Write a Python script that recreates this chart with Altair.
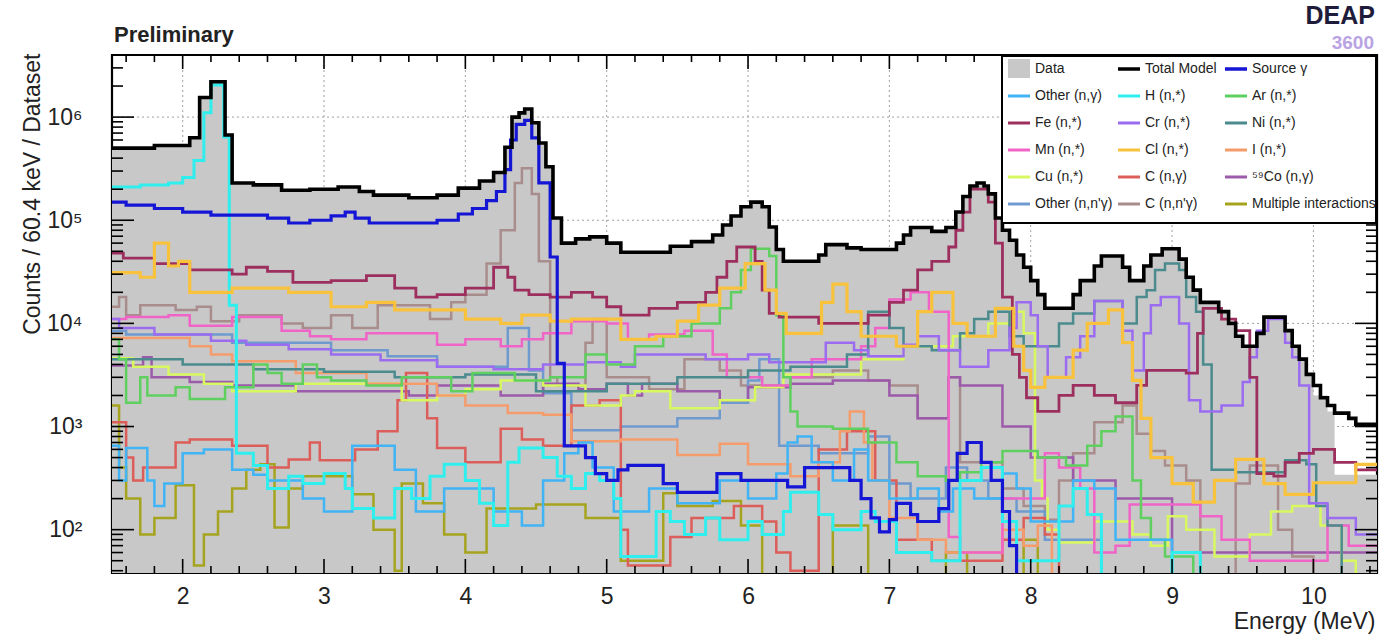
import altair as alt
import pandas as pd

# ---------------- axis ranges ----------------
X_MIN, X_MAX = 1.5, 10.45
Y_MIN, Y_MAX = 38, 4.0e6

X_MAJOR = [2, 3, 4, 5, 6, 7, 8, 9, 10]
Y_MAJOR = [1e2, 1e3, 1e4, 1e5, 1e6]

SERIES_NAMES = ["Data", "Total Model", "Source γ",
                "Other (n,γ)", "H (n,*)", "Ar (n,*)",
                "Fe (n,*)", "Cr (n,*)", "Ni (n,*)",
                "Mn (n,*)", "Cl (n,*)", "I (n,*)",
                "Cu (n,*)", "C (n,γ)", "⁵⁹Co (n,γ)",
                "Other (n,n'γ)", "C (n,n'γ)", "Multiple interactions"]
SERIES_COLORS = ["#c8c8c8", "#000000", "#1515d6",
                 "#40b4f4", "#2feeee", "#5fd05f",
                 "#9c2f5e", "#9b6cf0", "#4b8b8e",
                 "#f064c8", "#f8c23c", "#f59c6c",
                 "#d8f860", "#dc5e5a", "#9c5aaa",
                 "#6e9ad0", "#a98d8d", "#a6a41e"]

# ---------------- histograms: (bin low edge in MeV, counts) ----------------
TOTAL = [(1.5,5.0e5),(1.8,5.3e5),(2.05,6.3e5),(2.12,1.55e6),(2.2,2.2e6),(2.3,6.7e5),(2.35,2.3e5),(2.5,2.2e5),
         (2.7,1.95e5),(2.9,2.0e5),(3.1,2.1e5),(3.25,1.9e5),(3.35,1.75e5),(3.6,1.65e5),(3.8,1.75e5),(3.95,2.05e5),
         (4.1,2.4e5),(4.2,2.9e5),(4.28,5.1e5),(4.33,1.0e6),(4.38,1.1e6),(4.42,1.2e6),(4.47,8.8e5),(4.52,5.6e5),
         (4.57,3.3e5),(4.62,1.05e5),(4.68,6.0e4),(4.78,6.6e4),(4.88,6.9e4),(5.0,6.0e4),(5.1,4.9e4),(5.45,5.6e4),
         (5.6,6.2e4),(5.75,7.2e4),(5.82,9.0e4),(5.88,1.1e5),(5.95,1.35e5),(6.02,1.5e5),(6.1,1.35e5),(6.15,8.6e4),
         (6.2,5.2e4),(6.25,4.0e4),(6.5,4.6e4),(6.55,5.8e4),(6.7,5.4e4),(6.8,5.2e4),(7.05,6.0e4),(7.1,7.2e4),
         (7.15,8.5e4),(7.3,7.8e4),(7.4,8.5e4),(7.47,1.2e5),(7.52,1.7e5),(7.57,2.15e5),(7.62,2.3e5),(7.67,2.15e5),
         (7.7,1.8e5),(7.75,1.05e5),(7.8,8.0e4),(7.85,6.4e4),(7.9,4.6e4),(7.95,3.5e4),(8.0,2.6e4),(8.05,1.9e4),
         (8.1,1.4e4),(8.3,1.9e4),(8.35,2.6e4),(8.45,3.6e4),(8.5,4.5e4),(8.65,3.5e4),(8.7,2.6e4),(8.8,3.6e4),
         (8.85,4.6e4),(8.93,5.3e4),(9.05,4.2e4),(9.1,2.8e4),(9.15,2.1e4),(9.2,1.6e4),(9.33,1.3e4),(9.4,1.0e4),
         (9.45,7.5e3),(9.5,6.0e3),(9.6,8.0e3),(9.65,1.15e4),(9.8,8.5e3),(9.85,6.0e3),(9.9,4.5e3),(9.95,3.2e3),
         (10.0,2.5e3),(10.05,1.9e3),(10.1,1.6e3),(10.15,1.35e3),(10.25,1.2e3),(10.3,1.05e3)]

DATA = [(1.5,5.0e5),(1.8,5.3e5),(2.05,6.3e5),(2.12,1.55e6),(2.2,2.2e6),(2.3,6.7e5),(2.35,2.3e5),(2.5,2.2e5),
        (2.7,1.95e5),(2.9,2.0e5),(3.1,2.1e5),(3.25,1.9e5),(3.35,1.75e5),(3.6,1.65e5),(3.8,1.75e5),(3.95,2.05e5),
        (4.1,2.4e5),(4.2,2.9e5),(4.28,5.1e5),(4.33,1.0e6),(4.38,1.1e6),(4.42,1.2e6),(4.47,8.8e5),(4.52,5.6e5),
        (4.57,3.3e5),(4.62,1.05e5),(4.68,6.0e4),(4.78,6.6e4),(4.88,6.9e4),(5.0,6.0e4),(5.1,4.9e4),(5.45,5.6e4),
        (5.6,6.2e4),(5.75,7.2e4),(5.82,9.0e4),(5.88,1.1e5),(5.95,1.35e5),(6.02,1.5e5),(6.1,1.35e5),(6.15,8.6e4),
        (6.2,5.2e4),(6.25,4.0e4),(6.5,4.6e4),(6.55,5.8e4),(6.7,5.4e4),(6.8,5.2e4),(7.05,6.0e4),(7.1,7.2e4),
        (7.15,8.5e4),(7.3,7.8e4),(7.4,8.5e4),(7.47,1.2e5),(7.52,1.7e5),(7.57,2.15e5),(7.62,2.3e5),(7.67,2.15e5),
        (7.7,1.8e5),(7.75,1.05e5),(7.8,8.0e4),(7.85,6.4e4),(7.9,4.6e4),(7.95,3.5e4),(8.0,2.6e4),(8.05,1.9e4),
        (8.1,1.4e4),(8.3,1.9e4),(8.35,2.6e4),(8.45,3.6e4),(8.5,4.5e4),(8.65,3.5e4),(8.7,2.6e4),(8.8,3.6e4),
        (8.85,4.6e4),(8.93,5.3e4),(9.05,4.2e4),(9.1,2.8e4),(9.15,2.1e4),(9.2,1.6e4),(9.33,1.3e4),(9.4,1.0e4),
        (9.45,7.5e3),(9.5,6.0e3),(9.6,8.5e3),(9.65,1.2e4),(9.8,8.5e3),(9.85,6.0e3),(9.9,4.5e3),(9.95,3.2e3),
        (10.0,2.0e3),(10.1,1.4e3),(10.15,340)]

SOURCE = [(1.5,1.5e5),(1.6,1.4e5),(1.8,1.3e5),(2.0,1.2e5),(2.2,1.12e5),(2.6,1.05e5),(2.75,9.4e4),(2.9,1.0e5),
          (3.05,1.1e5),(3.15,1.2e5),(3.22,1.05e5),(3.32,9.4e4),(3.8,1.0e5),(3.95,1.15e5),(4.05,1.3e5),(4.15,1.55e5),
          (4.22,1.9e5),(4.28,3.1e5),(4.32,6.0e5),(4.36,8.5e5),(4.42,9.3e5),(4.47,6.3e5),(4.52,2.3e5),(4.6,4.4e4),
          (4.65,4.1e3),(4.7,650),(4.85,500),(4.92,350),(5.0,300),(5.08,380),(5.15,420),(5.4,280),(5.5,230),
          (5.78,350),(5.95,300),(6.28,260),(6.4,400),(6.72,300),(6.8,200),(6.87,130),(6.93,95),(7.0,125),
          (7.05,180),(7.15,140),(7.2,120),(7.35,160),(7.42,300),(7.48,550),(7.55,700),(7.65,450),(7.72,300),
          (7.8,150),(7.85,70),(7.9,10)]

OTHER_NG = [(1.5,650),(1.55,300),(1.6,620),(1.75,300),(1.8,170),(1.87,280),(2.0,550),(2.15,600),(2.35,380),
            (2.5,340),(2.6,300),(2.85,200),(3.0,150),(3.2,650),(3.5,380),(3.65,150),(3.85,250),(4.2,150),
            (4.4,110),(4.55,300),(4.7,550),(4.8,700),(4.9,400),(5.05,150),(5.3,250),(5.5,180),(5.8,300),
            (6.0,200),(6.2,350),(6.28,700),(6.35,800),(6.45,450),(6.6,300),(6.75,600),(6.85,300),(7.0,200),
            (7.2,250),(7.35,150),(7.45,250),(7.6,200),(7.8,350),(7.9,250),(8.0,120),(8.3,300),(8.45,250),
            (8.6,80),(9.0,30)]

H_NX = [(1.5,2.1e5),(1.7,2.2e5),(1.9,2.3e5),(2.0,2.6e5),(2.08,3.8e5),(2.15,1.1e6),(2.2,2.05e6),(2.29,6.4e5),
        (2.33,1.5e4),(2.38,550),(2.5,420),(2.6,250),(2.75,330),(2.85,280),(3.0,350),(3.15,250),(3.2,160),
        (3.35,130),(3.5,250),(3.62,200),(3.75,330),(3.85,430),(4.0,300),(4.1,180),(4.2,110),(4.3,450),
        (4.38,620),(4.55,500),(4.65,330),(4.75,250),(4.85,350),(4.95,300),(5.05,200),(5.1,55),(5.35,150),
        (5.45,120),(5.55,90),(5.7,130),(5.8,80),(6.0,120),(6.1,90),(6.25,150),(6.3,230),(6.5,140),(6.6,100),
        (6.8,150),(6.9,120),(7.05,60),(7.3,50),(7.5,300),(7.65,400),(7.8,120),(7.9,50),(8.2,170),(8.3,250),
        (8.4,140),(8.5,30),(9.0,60),(9.2,20)]

AR = [(1.5,7e3),(1.55,4.5e3),(1.6,1.7e3),(1.7,3e3),(1.75,2.0e3),(1.95,2.4e3),(2.05,1.85e3),(2.3,2.4e3),
      (2.5,4e3),(2.6,3.3e3),(2.7,2.6e3),(2.85,4e3),(2.95,3e3),(3.05,2.8e3),(3.3,2.5e3),(3.55,3e3),(3.9,2.2e3),
      (4.05,3.3e3),(4.35,2.8e3),(4.6,3.0e3),(4.85,5.0e3),(5.0,4.0e3),(5.2,6.0e3),(5.4,7.5e3),(5.6,1.0e4),
      (5.8,1.4e4),(5.88,2.0e4),(5.95,3.3e4),(6.02,5.3e4),(6.15,4.5e4),(6.2,1.2e4),(6.25,3.0e3),(6.3,1.4e3),
      (6.35,1.0e3),(6.6,950),(6.85,700),(7.05,450),(7.2,330),(7.4,300),(7.5,360),(7.65,450),(7.8,580),
      (8.05,500),(8.25,420),(8.4,650),(8.5,900),(8.6,1.25e3),(8.72,300),(8.78,130),(8.85,80),(8.95,55),(9.15,20)]

FE = [(1.5,4.8e4),(1.58,4.3e4),(1.8,3.8e4),(2.05,3.3e4),(2.35,3.0e4),(2.45,3.5e4),(2.6,3.2e4),(2.78,2.5e4),
      (3.05,2.6e4),(3.3,2.9e4),(3.5,2.2e4),(3.65,1.8e4),(3.8,1.9e4),(4.0,2.2e4),(4.2,3.5e4),(4.3,2.8e4),
      (4.35,2.1e4),(4.45,1.9e4),(4.6,1.8e4),(4.75,2.0e4),(4.9,1.8e4),(5.0,1.45e4),(5.1,1.2e4),(5.3,1.4e4),
      (5.5,1.6e4),(5.7,2.0e4),(5.78,2.8e4),(5.85,4.0e4),(5.92,5.5e4),(6.05,4.0e4),(6.1,2.1e4),(6.15,1.25e4),
      (6.22,1.15e4),(6.5,1.0e4),(6.85,1.2e4),(7.0,1.6e4),(7.1,2.1e4),(7.2,3.3e4),(7.3,4.0e4),(7.42,5.5e4),
      (7.47,8e4),(7.52,1.2e5),(7.57,2.0e5),(7.7,1.5e5),(7.75,6.0e4),(7.8,1.8e4),(7.87,5e3),(7.92,3e3),
      (7.97,1.9e3),(8.05,1.4e3),(8.2,2.0e3),(8.3,2.5e3),(8.45,2.0e3),(8.6,1.7e3),(8.75,2.5e3),(8.82,3.5e3),
      (9.1,3.3e3),(9.18,8e3),(9.22,1.4e4),(9.35,1.1e4),(9.45,8.5e3),(9.55,3.0e3),(9.6,350),(9.72,330),
      (9.8,450),(9.9,550),(10.0,600),(10.15,450),(10.3,380)]

CR = [(1.5,1.1e4),(1.55,9e3),(1.8,7.8e3),(2.2,6.8e3),(2.45,6.2e3),(2.75,5.6e3),(3.05,5.0e3),(3.4,4.4e3),
      (3.8,3.8e3),(4.2,3.6e3),(4.55,4.0e3),(4.85,4.2e3),(5.1,3.8e3),(5.2,5.0e3),(5.7,4.5e3),(6.0,5.0e3),
      (6.15,4.2e3),(6.55,6.5e3),(6.75,5.5e3),(6.85,4.8e3),(7.1,6.2e3),(7.2,7.5e3),(7.35,5.5e3),(7.5,3.8e3),
      (7.7,5.5e3),(7.85,9e3),(7.9,1.6e4),(8.0,1.2e4),(8.05,6e3),(8.12,3.0e3),(8.25,4.7e3),(8.35,7.5e3),
      (8.45,1.65e4),(8.65,8.5e3),(8.72,3.5e3),(8.8,8e3),(8.85,1.5e4),(8.92,1.8e4),(9.05,1.0e4),(9.12,1.8e3),
      (9.2,1.4e3),(9.35,1.6e3),(9.5,2.7e3),(9.55,4.7e3),(9.6,8.5e3),(9.68,1.1e4),(9.8,6.5e3),(9.85,4.7e3),
      (9.9,2.5e3),(9.97,180),(10.1,130),(10.3,90)]

NI = [(1.5,4.5e3),(2.0,4.0e3),(2.5,3.6e3),(3.0,3.4e3),(3.5,3.0e3),(4.0,3.2e3),(4.5,2.2e3),(5.0,2.6e3),
      (5.5,3.0e3),(6.0,3.5e3),(6.3,3.8e3),(6.7,5e3),(6.85,1.3e4),(7.0,9e3),(7.1,6e3),(7.3,5.5e3),(7.5,8e3),
      (7.6,1.1e4),(7.7,1.3e4),(7.85,7.5e3),(7.95,6e3),(8.2,1.0e4),(8.3,1.25e4),(8.45,1.65e4),(8.65,1.0e4),
      (8.75,1.8e4),(8.82,2.1e4),(8.88,3.3e4),(8.95,3.8e4),(9.05,3.3e4),(9.1,1.8e4),(9.17,1.3e4),(9.22,4e3),
      (9.28,380),(9.45,360),(9.8,470),(9.95,430),(10.02,170),(10.1,110),(10.2,20)]

MN = [(1.5,1.1e4),(1.6,1.15e4),(1.9,1.2e4),(2.05,9.5e3),(2.35,1.15e4),(2.7,8.5e3),(2.9,7.5e3),(3.05,7.0e3),
      (3.3,8.0e3),(3.8,6.2e3),(4.0,7.0e3),(4.25,6.0e3),(4.4,7.0e3),(4.55,8.0e3),(4.75,1.05e4),(5.0,1.0e4),
      (5.15,7.0e3),(5.3,7.8e3),(5.55,8.5e3),(5.75,5.0e3),(5.85,3.0e3),(6.1,2.5e3),(6.3,3.0e3),(6.45,4.5e3),
      (6.8,6e3),(6.9,9e3),(7.0,1.7e4),(7.15,2.0e4),(7.28,1.3e4),(7.42,85),(7.5,60),(7.8,200),(8.1,550),
      (8.2,400),(8.35,250),(8.45,60),(8.6,70),(8.7,175),(9.2,135),(9.35,80),(9.55,50),(10.1,110),(10.25,70)]

CL = [(1.5,3.1e4),(1.7,2.8e4),(1.8,6.0e4),(1.9,3.6e4),(1.97,4.0e4),(2.05,2.0e4),(2.35,2.2e4),(2.75,2.0e4),
      (3.05,1.45e4),(3.3,1.6e4),(3.5,1.35e4),(4.0,1.1e4),(4.25,1.0e4),(4.4,1.2e4),(4.6,1.05e4),(4.75,1.1e4),
      (5.1,7.0e3),(5.35,7.5e3),(5.5,1.05e4),(5.65,1.5e4),(5.8,2.2e4),(5.98,3.8e4),(6.12,2.1e4),(6.2,1.25e4),
      (6.27,8.0e3),(6.52,1.6e4),(6.6,2.4e4),(6.7,1.3e4),(6.8,7.5e3),(7.05,6.0e3),(7.2,1.3e4),(7.3,2.0e4),
      (7.45,1.0e4),(7.55,7.5e3),(7.75,1.4e4),(7.88,6e3),(7.95,3.5e3),(8.0,2.4e3),(8.1,3.0e3),(8.3,5.5e3),
      (8.4,1.0e4),(8.55,1.35e4),(8.65,6.5e3),(8.72,2.8e3),(8.78,1.2e3),(8.85,500),(9.0,280),(9.15,185),
      (9.3,300),(9.45,480),(9.65,280),(9.8,220),(10.0,285),(10.3,430)]

I_NX = [(1.5,7.2e3),(2.05,6.0e3),(2.2,5.0e3),(2.35,4.3e3),(2.8,3.3e3),(3.3,2.6e3),(3.8,2.0e3),(4.0,1.6e3),
        (4.3,1.35e3),(4.55,1.3e3),(4.75,720),(5.1,750),(5.5,530),(5.8,680),(6.0,430),(6.3,330),(6.5,450),
        (6.65,900),(6.72,1.4e3),(6.82,700),(6.88,300),(7.0,130),(7.2,80),(7.4,60),(7.8,100),(7.95,70),
        (8.05,110),(8.15,25)]

CU = [(1.5,4.6e3),(1.65,3.8e3),(1.9,3.2e3),(2.15,2.6e3),(2.35,2.2e3),(2.8,2.6e3),(3.55,1.8e3),(3.8,2.0e3),
      (4.0,2.3e3),(4.25,2.8e3),(4.55,2.5e3),(4.85,1.6e3),(5.1,2.0e3),(5.2,2.2e3),(5.45,1.5e3),(5.8,1.8e3),
      (6.05,2.4e3),(6.25,3.2e3),(6.8,4.5e3),(7.1,6.0e3),(7.45,7.5e3),(7.7,1.0e4),(7.85,1.3e4),(7.95,8e3),
      (8.03,300),(8.08,200),(8.12,100),(8.2,75),(8.45,120),(8.72,90),(8.85,70),(8.97,135),(9.1,100),(9.3,55),
      (9.55,90),(9.7,150),(9.85,170),(10.05,110),(10.2,50),(10.3,20)]

C_NG = [(1.5,1.1e3),(1.6,500),(1.65,300),(1.72,400),(1.95,700),(2.05,750),(2.35,650),(2.6,400),(2.75,480),
        (2.9,700),(2.97,470),(3.22,600),(3.38,900),(3.52,1.8e3),(3.58,3.3e3),(3.73,1.2e3),(3.8,620),(4.0,450),
        (4.25,950),(4.4,750),(4.55,650),(4.75,1.6e3),(4.95,1.8e3),(5.1,100),(5.15,45),(5.45,85),(5.6,130),
        (5.9,170),(6.1,120),(6.2,60),(6.3,40),(6.5,600),(6.7,900),(6.9,300),(7.05,80),(7.3,50),(7.8,80),
        (7.95,130),(8.1,90),(8.2,25)]

CO59 = [(1.5,3.9e3),(1.72,4.7e3),(1.78,3.0e3),(2.05,2.7e3),(2.35,2.5e3),(2.8,2.2e3),(3.6,2.0e3),(3.8,2.5e3),
        (4.25,2.0e3),(4.55,2.6e3),(4.8,2.3e3),(5.0,2.6e3),(5.15,2.0e3),(5.25,2.6e3),(5.5,2.2e3),(5.8,1.8e3),
        (6.0,2.4e3),(6.3,2.6e3),(6.6,2.8e3),(7.0,2.0e3),(7.2,1.2e3),(7.42,3e3),(7.5,2.5e3),(7.8,1.0e3),
        (8.0,500),(8.3,300),(8.6,200),(9.0,60)]

OTHER_NNG = [(1.5,8.5e3),(1.6,7.8e3),(2.35,6.5e3),(3.05,5.5e3),(3.45,4.8e3),(3.8,3.8e3),(4.3,9e3),(4.45,3.5e3),
             (4.55,2.1e3),(4.75,920),(5.1,1.0e3),(5.5,1.2e3),(5.8,1.7e3),(6.0,2.8e3),(6.08,4.5e3),(6.22,650),
             (6.5,550),(6.85,800),(7.0,280),(7.15,200),(7.4,400),(7.55,300),(7.7,200),(7.9,150),(8.1,80),(8.5,30)]

C_NNG = [(1.5,1.45e4),(1.55,1.8e4),(1.6,1.2e4),(1.7,1.5e4),(1.95,1.35e4),(2.1,1.45e4),(2.2,1.05e4),(2.4,1.2e4),
         (2.7,1.0e4),(2.85,9e3),(3.05,1.2e4),(3.2,9e3),(3.38,1.5e4),(3.75,1.1e4),(3.9,1.6e4),(4.0,1.9e4),
         (4.15,3.8e4),(4.25,8e4),(4.35,2.3e5),(4.4,3.2e5),(4.47,1.8e5),(4.52,4.0e4),(4.6,3e3),(4.65,2.5e3),
         (4.85,6.5e3),(4.9,1.1e4),(5.0,3e3),(5.3,2.3e3),(5.55,4.5e3),(5.8,3.5e3),(5.95,2.5e3),(6.3,3e3),
         (6.6,3.5e3),(6.85,2.8e3),(7.0,2.5e3),(7.2,1.2e3),(7.42,3e3),(7.5,450),(7.8,250),(7.95,170),(8.1,125),
         (8.2,300),(8.3,550),(8.45,1.1e3),(8.65,1.6e3),(8.75,850),(8.85,580),(8.95,420),(9.1,300),(9.2,20),
         (9.45,280),(9.55,420),(9.75,100),(9.85,55),(10.0,20)]

MULTI = [(1.5,1.6e3),(1.55,400),(1.6,200),(1.7,90),(1.8,130),(1.95,270),(2.08,45),(2.15,90),(2.25,150),
         (2.35,250),(2.45,380),(2.55,430),(2.65,105),(2.75,250),(2.85,330),(3.2,220),(3.35,100),(3.5,40),
         (3.55,280),(3.7,180),(3.85,90),(4.0,60),(4.15,160),(4.5,175),(4.85,130),(5.1,50),(5.4,225),(5.5,170),
         (5.75,190),(5.95,110),(6.1,30),(6.6,110),(6.85,30),(7.4,60),(7.55,30),(7.95,80),(8.05,20)]

COMPONENTS = [("Multiple interactions", MULTI, 2.5), ("C (n,n'γ)", C_NNG, 2.5),
              ("Other (n,n'γ)", OTHER_NNG, 2.5), ("⁵⁹Co (n,γ)", CO59, 2.5), ("C (n,γ)", C_NG, 2.5),
              ("Cu (n,*)", CU, 2.5), ("I (n,*)", I_NX, 2.5), ("Mn (n,*)", MN, 2.5), ("Ni (n,*)", NI, 2.5),
              ("Cr (n,*)", CR, 2.5), ("Ar (n,*)", AR, 2.5), ("Other (n,γ)", OTHER_NG, 2.5),
              ("H (n,*)", H_NX, 3), ("Fe (n,*)", FE, 2.8), ("Cl (n,*)", CL, 3.2)]

# ---------------- layout ----------------
W, H = 1265, 518
FONT = "Liberation Sans"
LEG_COL_X = [896, 1006, 1113]
LEG_ROW_Y0, LEG_ROW_DY = 14, 27


def step_rows(name, pairs, width):
    rows = [{"series": name, "E": e, "v": v, "w": width, "base": Y_MIN} for e, v in pairs]
    rows.append({"series": name, "E": X_MAX, "v": pairs[-1][1], "w": width, "base": Y_MIN})
    return rows


comp_rows = []
for name, pairs, w in COMPONENTS:
    comp_rows += step_rows(name, pairs, w)
df_comp = pd.DataFrame(comp_rows)
df_src = pd.DataFrame(step_rows("Source γ", SOURCE, 3.2))
df_tot = pd.DataFrame(step_rows("Total Model", TOTAL, 3.6))
df_data = pd.DataFrame(step_rows("Data", DATA, 0))

xs = alt.Scale(domain=[X_MIN, X_MAX], nice=False, zero=False)
ys = alt.Scale(type="log", domain=[Y_MIN, Y_MAX], nice=False)
cscale = alt.Scale(domain=SERIES_NAMES, range=SERIES_COLORS)

x_axis = alt.Axis(values=X_MAJOR, grid=False,
                  ticks=False, domain=False, labelFont=FONT, labelFontSize=23, labelPadding=12,
                  labelColor="#222", title="Energy (MeV)", titleFont=FONT, titleFontSize=23,
                  titleFontWeight="normal", titleColor="#222", titleAnchor="end", titleAlign="right",
                  titleX=W - 2, titleY=48, titleBaseline="middle")
y_axis = alt.Axis(values=Y_MAJOR, grid=False,
                  ticks=False, domain=False, labelFont=FONT, labelFontSize=23, labelPadding=30,
                  labelColor="#222",
                  labelExpr="'10' + ['⁰','¹','²','³','⁴','⁵','⁶','⁷'][round(log(datum.value)/LN10)]",
                  title="Counts / 60.4 keV / Dataset", titleFont=FONT, titleFontSize=23,
                  titleFontWeight="normal", titleColor="#222", titleAnchor="end", titleAlign="right",
                  titleAngle=270, titleX=-80, titleY=-2, titleBaseline="middle")

# dotted grid (drawn first, so the data fill hides it)
df_gx = pd.DataFrame({"t": X_MAJOR})
df_gy = pd.DataFrame({"t": Y_MAJOR})
grid_x = alt.Chart(df_gx).mark_rule(color="#a0a0a0", strokeWidth=1, strokeDash=[2, 3]).encode(
    x=alt.X("t:Q", scale=xs, axis=x_axis), y=alt.value(0), y2=alt.value(H))
grid_y = alt.Chart(df_gy).mark_rule(color="#a0a0a0", strokeWidth=1, strokeDash=[2, 3]).encode(
    y=alt.Y("t:Q", scale=ys, axis=y_axis), x=alt.value(0), x2=alt.value(W))

data_layer = alt.Chart(df_data).mark_area(interpolate="step-after", color="#c8c8c8", clip=True,
                                          opacity=1, fillOpacity=1).encode(
    x=alt.X("E:Q", scale=xs, axis=x_axis),
    y=alt.Y("v:Q", scale=ys, axis=y_axis), y2="base:Q")


def line_layer(df):
    return alt.Chart(df).mark_line(interpolate="step-after", clip=True, strokeJoin="miter").encode(
        x=alt.X("E:Q", scale=xs, axis=x_axis),
        y=alt.Y("v:Q", scale=ys, axis=y_axis),
        color=alt.Color("series:N", scale=cscale, legend=None),
        strokeWidth=alt.StrokeWidth("w:Q", scale=None, legend=None),
        detail="series:N")


# ---------------- ticks (inward, all four sides) ----------------
X_MINOR = [round(1.6 + 0.2 * i, 1) for i in range(45) if 1.6 + 0.2 * i < X_MAX]
X_MINOR = [t for t in X_MINOR if abs(t - round(t)) > 1e-6]
Y_MINOR = [m * 10 ** d for d in range(1, 7) for m in range(2, 10) if Y_MIN <= m * 10 ** d <= Y_MAX]

df_xmaj = pd.DataFrame({"t": X_MAJOR})
df_xmin = pd.DataFrame({"t": X_MINOR})
df_ymaj = pd.DataFrame({"t": Y_MAJOR})
df_ymin = pd.DataFrame({"t": Y_MINOR})


def xticks(df, length):
    b = alt.Chart(df).mark_rule(color="black", strokeWidth=1.6).encode(
        x=alt.X("t:Q", scale=xs, axis=x_axis), y=alt.value(H), y2=alt.value(H - length))
    t = alt.Chart(df).mark_rule(color="black", strokeWidth=1.6).encode(
        x=alt.X("t:Q", scale=xs, axis=x_axis), y=alt.value(0), y2=alt.value(length))
    return [b, t]


def yticks(df, length):
    l = alt.Chart(df).mark_rule(color="black", strokeWidth=1.6).encode(
        y=alt.Y("t:Q", scale=ys, axis=y_axis), x=alt.value(0), x2=alt.value(length))
    r = alt.Chart(df).mark_rule(color="black", strokeWidth=1.6).encode(
        y=alt.Y("t:Q", scale=ys, axis=y_axis), x=alt.value(W), x2=alt.value(W - length))
    return [l, r]


tick_layers = xticks(df_xmaj, 14) + xticks(df_xmin, 7) + yticks(df_ymaj, 22) + yticks(df_ymin, 11)

# ---------------- legend ----------------
leg = []
for i, (n, c) in enumerate(zip(SERIES_NAMES, SERIES_COLORS)):
    r, col = divmod(i, 3)
    x0 = LEG_COL_X[col]
    leg.append({"name": n, "color": c, "x1": x0, "x2": x0 + 22, "tx": x0 + 27,
                "ly": LEG_ROW_Y0 + LEG_ROW_DY * r, "ly1": LEG_ROW_Y0 + LEG_ROW_DY * r - 10,
                "ly2": LEG_ROW_Y0 + LEG_ROW_DY * r + 9,
                "lw": 3.5 if n in ("Total Model", "Source γ") else 3})
df_leg = pd.DataFrame(leg)

legend_box = alt.Chart(df_leg).mark_rect(fill="white", stroke="black", strokeWidth=2).encode(
    x=alt.value(890), x2=alt.value(W - 1), y=alt.value(1), y2=alt.value(168))
legend_sq = alt.Chart(df_leg[df_leg["name"] == "Data"]).mark_rect(color="#c8c8c8", opacity=1).encode(
    x=alt.X("x1:Q", scale=None), x2="x2:Q", y=alt.Y("ly1:Q", scale=None), y2="ly2:Q")
legend_lines = alt.Chart(df_leg[df_leg["name"] != "Data"]).mark_rule().encode(
    x=alt.X("x1:Q", scale=None), x2="x2:Q", y=alt.Y("ly:Q", scale=None),
    color=alt.Color("color:N", scale=None), strokeWidth=alt.StrokeWidth("lw:Q", scale=None))
legend_text = alt.Chart(df_leg).mark_text(align="left", baseline="middle", font=FONT,
                                          fontSize=14, color="#222").encode(
    x=alt.X("tx:Q", scale=None), y=alt.Y("ly:Q", scale=None), text="name:N")

# ---------------- titles / logo ----------------
df_txt = pd.DataFrame({"a": [0]})
prelim = alt.Chart(df_txt).mark_text(text="Preliminary", align="left", baseline="middle", font=FONT,
                                     fontSize=22, fontWeight="bold", color="#222").encode(
    x=alt.value(2), y=alt.value(-20))
logo_num = alt.Chart(df_txt).mark_text(text="3600", align="right", baseline="middle", font=FONT,
                                       fontSize=19, fontWeight="bold", color="#b9a3e3").encode(
    x=alt.value(W - 3), y=alt.value(-12))
logo = alt.Chart(df_txt).mark_text(text="DEAP", align="right", baseline="middle", font=FONT,
                                   fontSize=25, fontWeight="bold", color="#1e1c3a").encode(
    x=alt.value(W - 2), y=alt.value(-39))

layers = [grid_x, grid_y, data_layer, line_layer(df_comp), line_layer(df_src), line_layer(df_tot)] + \
         tick_layers + [legend_box, legend_sq, legend_lines, legend_text, prelim, logo_num, logo]

chart = alt.layer(*layers).properties(
    width=W, height=H,
    padding={"left": 112, "top": 55, "right": 9, "bottom": 65},
    autosize=alt.AutoSizeParams(type="none"),
    background="white",
).configure_view(stroke="black", strokeWidth=2.2)

chart.save("out.html", embed_options={"renderer": "svg", "actions": False})
